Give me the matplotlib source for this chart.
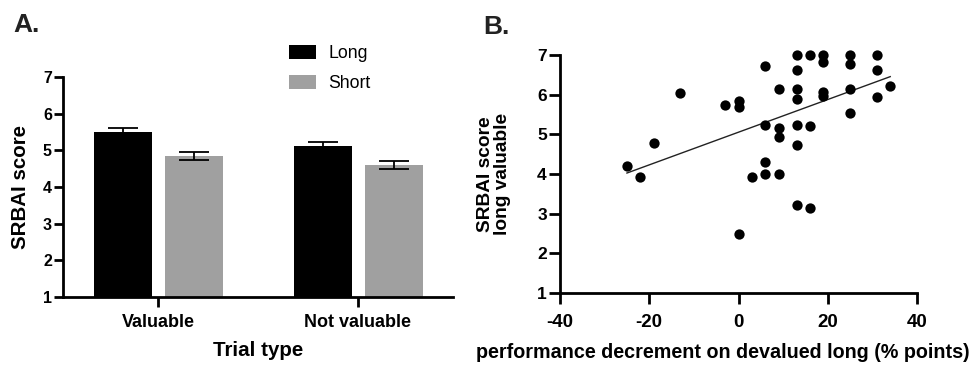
import numpy as np
import matplotlib
matplotlib.use("Agg")
import matplotlib.pyplot as plt

plt.rcParams['font.family'] = ['Liberation Sans', 'DejaVu Sans']
plt.rcParams['font.weight'] = 'bold'
plt.rcParams['axes.unicode_minus'] = False

# Panel A data
categories = ["Valuable", "Not valuable"]
series_names = ["Long", "Short"]
long_means = [5.49, 5.12]
long_sem = [0.11, 0.10]
short_means = [4.85, 4.60]
short_sem = [0.10, 0.12]

# Panel B data
decrement = [-25, -22, -19, -13, -3, 0, 0, 0, 3, 6, 6, 6, 6, 9, 9, 9, 9,
             13, 13, 13, 13, 13, 13, 13, 16, 16, 16, 19, 19, 19, 19,
             25, 25, 25, 25, 31, 31, 31, 34]
srbai_long_valuable = [4.21, 3.93, 4.78, 6.05, 5.74, 5.85, 5.70, 2.50, 3.93,
                       6.72, 5.23, 4.29, 4.01, 6.15, 5.16, 4.93, 4.01,
                       7.00, 6.61, 6.15, 5.90, 5.24, 4.72, 3.21, 7.00, 5.22, 3.15,
                       7.00, 6.83, 6.07, 5.97, 7.00, 6.78, 6.15, 5.55,
                       7.00, 6.61, 5.95, 6.23]

W, H = 975, 366
fig = plt.figure(figsize=(W / 100, H / 100), dpi=100)

def frac(l, t, r, b):
    return [l / W, 1 - b / H, (r - l) / W, (b - t) / H]

LW = 2.0

# ---------- Panel A ----------
axA = fig.add_axes(frac(63, 77, 453, 297))
x = np.arange(len(categories))
bw = 0.29
off = 0.1775
err_kw = dict(ecolor='black', elinewidth=1.3, capsize=11, capthick=1.3)
axA.bar(x - off, long_means, bw, yerr=long_sem, color='black', label=series_names[0],
        error_kw=err_kw, zorder=2)
axA.bar(x + off, short_means, bw, yerr=short_sem, color='#a0a0a0', label=series_names[1],
        error_kw=err_kw, zorder=2)
axA.set_xlim(-0.475, 1.475)
axA.set_ylim(1, 7)
axA.set_yticks(range(1, 8))
axA.set_xticks(x)
axA.set_xticklabels(categories, fontsize=13, fontweight='bold')
for s in ['top', 'right']:
    axA.spines[s].set_visible(False)
for s in ['left', 'bottom']:
    axA.spines[s].set_linewidth(LW)
axA.tick_params(axis='y', labelsize=11.5, width=LW, length=6.5, pad=1.5)
axA.tick_params(axis='x', width=LW, length=7, pad=5.5)
axA.set_ylabel("SRBAI score", fontsize=14.8, fontweight='bold', va='center')
axA.yaxis.set_label_coords(-0.110, 0.5)
axA.set_xlabel("Trial type", fontsize=14.8, fontweight='bold', va='center')
axA.xaxis.set_label_coords(0.5, -0.241)
axA.legend(loc='upper left', bbox_to_anchor=((273 - 63) / 390, (297 - 29) / 220),
           frameon=False, prop={'size': 12.7, 'weight': 'normal'},
           handlelength=1.55, handleheight=0.85, handletextpad=0.7, labelspacing=0.72)
fig.text(13 / W, 1 - 25 / H, "A.", fontsize=19, fontweight='bold', va='center', ha='left',
         color='#222222')

# ---------- Panel B ----------
axB = fig.add_axes(frac(560, 55, 917, 293))
axB.scatter(decrement, srbai_long_valuable, s=55, color='black', zorder=3, clip_on=False,
            linewidths=0)
coef = np.polyfit(decrement, srbai_long_valuable, 1)
xs = np.array([min(decrement), max(decrement)])
axB.plot(xs, np.polyval(coef, xs), color='#222222', lw=1.0, zorder=2)
axB.set_xlim(-40, 40)
axB.set_ylim(1, 7)
axB.set_xticks([-40, -20, 0, 20, 40])
axB.set_yticks(range(1, 8))
for s in ['top', 'right']:
    axB.spines[s].set_visible(False)
for s in ['left', 'bottom']:
    axB.spines[s].set_linewidth(LW)
axB.tick_params(axis='y', labelsize=12.5, width=LW, length=8, pad=1.5)
axB.tick_params(axis='x', labelsize=13.5, width=LW, length=8, pad=7)
axB.set_ylabel("SRBAI score\nlong valuable", fontsize=13.8, fontweight='bold',
               linespacing=1.05, va='center')
axB.yaxis.set_label_coords(-0.185, 0.5)
axB.set_xlabel("performance decrement on devalued long (% points)", fontsize=14.2,
               fontweight='bold', va='center')
axB.xaxis.set_label_coords(0.457, -0.252)
fig.text(483 / W, 1 - 27 / H, "B.", fontsize=19, fontweight='bold', va='center', ha='left',
         color='#222222')

fig.savefig("out.png", dpi=100)
